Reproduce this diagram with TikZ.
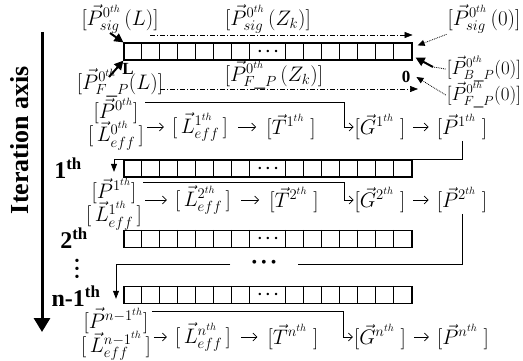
\RequirePackage{fix-cm}
\documentclass[tikz,border=0pt]{standalone}
\usepackage{fontspec}
\setmainfont{Liberation Serif}
\usetikzlibrary{arrows.meta}
\tikzset{
  cellrow/.style={draw,line width=1.2pt,minimum width=288pt,minimum height=17pt,inner sep=0pt},
  cellsep/.style={line width=.7pt},
  mth/.style={font=\fontsize{21}{23}\selectfont,inner sep=1pt},
  smth/.style={font=\fontsize{19}{21}\selectfont,inner sep=1pt},
  stk/.style={font=\fontsize{21}{19}\selectfont,inner sep=1pt,align=center},
  itr/.style={font=\fontsize{24}{26}\selectfont\bfseries,inner sep=1pt},
  endlbl/.style={font=\fontsize{17}{20}\selectfont\bfseries,inner sep=1pt},
  dotsn/.style={font=\fontsize{16}{18}\selectfont\boldmath,inner sep=0pt},
  ar/.style={-{Straight Barb[length=4pt,width=8pt]},line width=.7pt},
  fb/.style={-{Triangle[length=8pt,width=6pt]},line width=.7pt},
  ddash/.style={-{Triangle[length=8pt,width=6pt]},line width=.6pt,
                dash pattern=on 5pt off 2pt on 1pt off 2pt},
  dotar/.style={-{Triangle[length=7pt,width=6pt]},line width=.8pt,densely dotted},
  thk/.style={-{Triangle[length=9pt,width=9pt]},line width=2pt},
  axisar/.style={-{Triangle[length=14pt,width=16pt]},line width=3pt},
}
\begin{document}
\begin{tikzpicture}[x=1pt,y=-1pt]
  \useasboundingbox (0,0) rectangle (523,361);
  % iteration axis
  \coordinate (axtop) at (42,32);
  \coordinate (axbot) at (42,332);
  \draw[axisar] (axtop) -- (axbot);
  \node[font=\fontsize{26}{28}\selectfont\bfseries,rotate=90] (axl) at (20,140) {Iteration axis};
  \node[itr] (it1) at (68,168) {1\textsuperscript{th}};
  \node[itr] (it2) at (74,238) {2\textsuperscript{th}};
  \node[font=\fontsize{14}{8}\selectfont,align=center,inner sep=0pt] (vd) at (77,270)
       {\textbullet\\\textbullet\\\textbullet};
  \node[itr] (itn) at (76,296) {n-1\textsuperscript{th}};
  % arrays
  \foreach \n/\y in {a0/51.5,a1/168.5,a2/239,a3/295}
    \node[cellrow] (\n) at (268,\y) {};
  \foreach \n in {a0,a1,a2,a3}{
    \foreach \i in {1,...,7,9,10,...,15}
      \draw[cellsep] ([xshift=\i*18pt]\n.north west) -- ([xshift=\i*18pt]\n.south west);
    \node[dotsn] (\n d) at (\n) {$\cdots$};
  }
  % 0th labels
  \node[mth] (sl) at (120,19) {$[\vec{P}^{0^{th}}_{sig}\,(L)]$};
  \node[mth] (sz) at (268,19) {$[\vec{P}^{0^{th}}_{sig}\,(Z_k)]$};
  \node[mth] (s0) at (484,19) {$[\vec{P}^{0^{th}}_{sig}\,(0)]$};
  \node[mth] (fl) at (120,83) {$[\vec{P}^{0^{th}}_{F\_P}(L)]$};
  \node[mth] (fz) at (274,75) {$[\vec{P}^{0^{th}}_{F\_P}\,(Z_k)]$};
  \node[smth] (b0) at (484,69) {$[\vec{P}^{0^{th}}_{B\_P}(0)]$};
  \node[smth] (f0) at (484,95) {$[\vec{P}^{0^{th}}_{F\_P}(0)]$};
  \node[endlbl] (ll) at (128,69) {L};
  \node[endlbl] (zz) at (406,77) {0};
  \coordinate (d1) at (150,35);
  \draw[ddash] (d1) -- (d1 -| a0.east);
  \coordinate (d2) at (160,89);
  \coordinate (d2e) at (418,89);
  \draw[ddash] (d2) -- (d2e);
  \coordinate (k1) at (110,33);
  \coordinate (k2) at (109,77);
  \draw[thk] (k1) -- (a0.north west);
  \draw[thk] (k2) -- (a0.south west);
  \draw[dotar] (s0.south west) -- ([xshift=5pt,yshift=-3pt]a0.north east);
  \coordinate (kb) at (433,67);
  \draw[line width=.8pt,densely dotted] (b0.west) -- (kb);
  \draw[thk] (kb) -- ([xshift=3pt,yshift=3pt]a0.south east);
  \draw[dotar] (f0.west) -- ([xshift=5pt]zz.east);
  % row 0 -> 1
  \node[stk] (st0) at (116,124) {$[\vec{P}^{0^{th}}]$\\[-3pt]$[\,\vec{L}^{0^{th}}_{eff}\,]$};
  \node[mth] (l1) at (200,127) {$[\,\vec{L}^{1^{th}}_{eff}\,]$};
  \node[mth] (t1) at (291,127) {$[\vec{T}^{1^{th}}\;]$};
  \node[mth] (g1) at (380,127) {$[\vec{G}^{1^{th}}\;]$};
  \node[mth] (p1) at (462,127) {$[\vec{P}^{1^{th}}\;]$};
  % row 1 -> 2
  \node[stk] (st1) at (114,204) {$[\vec{P}^{1^{th}}]$\\[-3pt]$[\,\vec{L}^{1^{th}}_{eff}\,]$};
  \node[mth] (l2) at (203,200) {$[\,\vec{L}^{2^{th}}_{eff}\,]$};
  \node[mth] (t2) at (294,200) {$[\vec{T}^{2^{th}}\;]$};
  \node[mth] (g2) at (380,200) {$[\vec{G}^{2^{th}}\;]$};
  \node[mth] (p2) at (462,200) {$[\vec{P}^{2^{th}}\;]$};
  % row n-1 -> n
  \node[stk] (stn) at (116,334) {$[\vec{P}^{n-1^{th}}]$\\[-3pt]$[\,\vec{L}^{n-1^{th}}_{eff}\,]$};
  \node[mth] (ln) at (203,337) {$[\,\vec{L}^{n^{th}}_{eff}\,]$};
  \node[mth] (tn) at (293,337) {$[\vec{T}^{n^{th}}\;]$};
  \node[mth] (gn) at (380,337) {$[\vec{G}^{n^{th}}\;]$};
  \node[mth] (pn) at (463,337) {$[\vec{P}^{n^{th}}\;]$};
  \node[dotsn,minimum width=67pt] (hd) at (264,264) {\textbullet\ \textbullet\ \textbullet};
  \foreach \s/\l/\t/\g/\p in {st0/l1/t1/g1/p1,st1/l2/t2/g2/p2,stn/ln/tn/gn/pn}{
    \draw[ar,shorten <=2pt,shorten >=7pt] (\s.east |- \l.west) -- (\l.west);
    \draw[ar,shorten <=9pt,shorten >=9pt] (\l) -- (\t);
    \draw[ar,shorten <=7pt,shorten >=7pt] (\g) -- (\p);
    \draw[ar] ([yshift=-5pt]\s.north east) -| ([xshift=-9pt]\g.west) -- (\g.west);
  }
  \draw[fb,shorten >=5pt] (p1.south) -- ++(0,18) -| (st1.north);
  \draw (p2.south) |- (hd.east);
  \draw[fb,shorten >=8pt] (hd.west) -| (stn.north);
\end{tikzpicture}
\end{document}
